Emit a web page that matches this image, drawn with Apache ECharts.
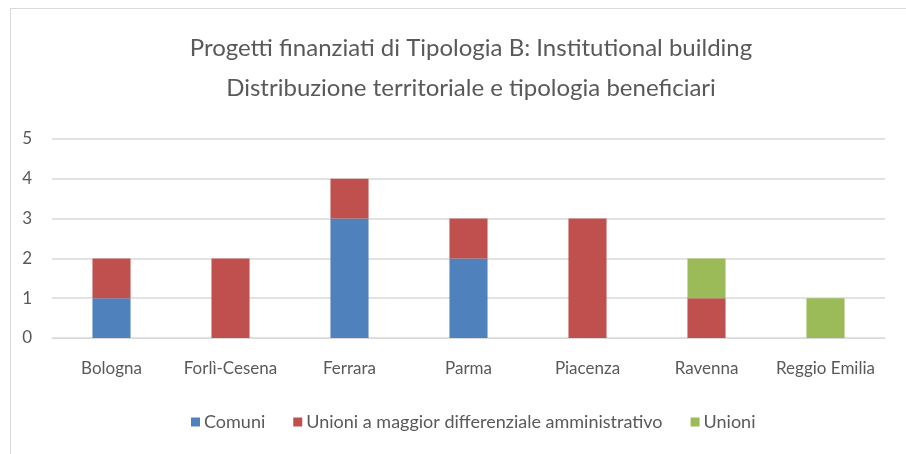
<!DOCTYPE html>
<html>
<head>
<meta charset="utf-8">
<script src="https://cdn.jsdelivr.net/npm/echarts@6/dist/echarts.min.js"></script>
<style>
html,body{margin:0;padding:0;background:#fff;}
#main{width:906px;height:454px;}
</style>
</head>
<body>
<div id="main"></div>
<script>
var province = ['Bologna', 'Forlì-Cesena', 'Ferrara', 'Parma', 'Piacenza', 'Ravenna', 'Reggio Emilia'];
var comuni = [1, 0, 3, 2, 0, 0, 0];
var unioniMagg = [1, 2, 1, 1, 3, 1, 0];
var unioni = [0, 0, 0, 0, 0, 1, 1];
var yTicks = [0, 1, 2, 3, 4, 5];

var font = 'Lato';
var chart = echarts.init(document.getElementById('main'));

function serie(name, data, color) {
    return {
        name: name,
        type: 'bar',
        stack: 'tot',
        barWidth: '32%',
        data: data.map(function (v) { return v === 0 ? null : v; }),
        itemStyle: { color: color }
    };
}

var option = {
    animation: false,
    textStyle: { fontFamily: font },
    title: {
        text: 'Progetti finanziati di Tipologia B: Institutional building\nDistribuzione territoriale e tipologia beneficiari',
        left: 466,
        textAlign: 'center',
        top: 23,
        textStyle: { fontFamily: font, fontSize: 24, fontWeight: 'normal', color: '#595959', lineHeight: 40 }
    },
    graphic: [
        { type: 'line', shape: { x1: 10, y1: 8.5, x2: 906, y2: 8.5 }, style: { stroke: '#d9d9d9', lineWidth: 1 } },
        { type: 'line', shape: { x1: 10.5, y1: 8, x2: 10.5, y2: 454 }, style: { stroke: '#d9d9d9', lineWidth: 1 } }
    ],
    legend: {
        bottom: 18,
        left: 186,
        itemWidth: 9,
        itemHeight: 9,
        itemGap: 28,
        icon: 'rect',
        textStyle: { fontFamily: font, fontSize: 18, color: '#595959', padding: [0, 0, 0, -1] },
        data: ['Comuni', 'Unioni a maggior differenziale amministrativo', 'Unioni']
    },
    grid: { left: 52, right: 21, top: 139, bottom: 116 },
    xAxis: {
        type: 'category',
        data: province,
        axisLine: { lineStyle: { color: '#d9d9d9' } },
        axisTick: { show: false },
        axisLabel: { fontSize: 17, color: '#595959', margin: 22, interval: 0 }
    },
    yAxis: {
        type: 'value',
        min: yTicks[0],
        max: yTicks[yTicks.length - 1],
        interval: 1,
        axisLine: { show: false },
        axisTick: { show: false },
        axisLabel: { fontSize: 17, color: '#595959', margin: 20 },
        splitLine: { lineStyle: { color: '#d9d9d9', width: 1.5 } }
    },
    series: [
        serie('Comuni', comuni, '#4F81BD'),
        serie('Unioni a maggior differenziale amministrativo', unioniMagg, '#C0504D'),
        serie('Unioni', unioni, '#9BBB59')
    ]
};
chart.setOption(option);
</script>
</body>
</html>
